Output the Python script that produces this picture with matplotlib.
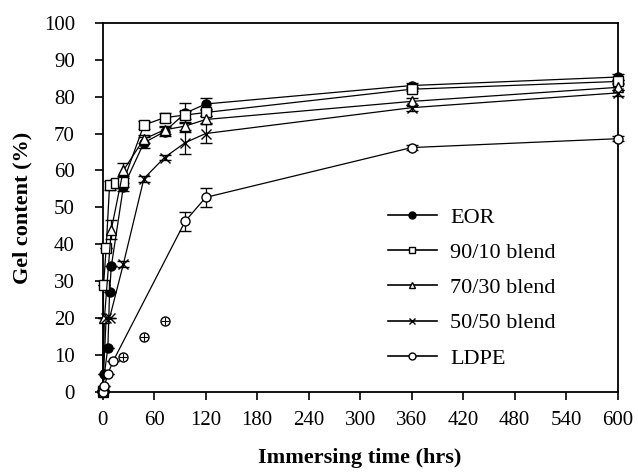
import matplotlib
matplotlib.use("Agg")
import matplotlib.pyplot as plt
from matplotlib.lines import Line2D

# Gel content vs immersing time
t_eor = [0, 2, 6, 8, 10, 24, 48, 72, 96, 120, 360, 600]
v_eor = [0.5, 5, 12, 27, 34, 55.5, 67.5, 70.5, 75.5, 78, 83, 85.3]
e_eor = [0, 0, 0, 0, 0, 1.2, 1.5, 1.2, 2.7, 1.5, 0.8, 0.8]

t_9010 = [0, 1, 4, 8, 16, 24, 48, 72, 96, 120, 360, 600]
v_9010 = [0.3, 29, 39, 56, 56.5, 57, 72.3, 74.3, 75, 75.7, 82, 84.1]
e_9010 = [0, 0, 0, 1.2, 1.2, 1.5, 1.0, 1.2, 1.0, 1.0, 0.5, 0.5]

t_7030 = [0, 2, 10, 24, 48, 72, 96, 120, 360, 600]
v_7030 = [0, 20, 44, 60, 68.5, 71, 72, 73.8, 78.7, 82.5]
e_7030 = [0, 0, 2.5, 2, 1, 1, 1, 1, 1, 0.8]

t_5050 = [0, 4, 8, 24, 48, 72, 96, 120, 360, 600]
v_5050 = [0, 20, 20, 34.6, 57.8, 63.5, 67.5, 70, 77, 81]
e_5050 = [0, 0, 0, 0.8, 0.8, 0.8, 3, 2.5, 0.8, 0.8]

t_ldpe = [0, 2, 6, 12, 96, 120, 360, 600]
v_ldpe = [0, 1.6, 4.9, 8.3, 46.2, 52.7, 66.2, 68.6]
e_ldpe = [0, 0, 0, 0, 2.5, 2.5, 0.6, 0.6]

# LDPE points that sit off the fitted curve
t_ldpe_off = [24, 48, 72]
v_ldpe_off = [9.5, 15, 19.2]

plt.rcParams["font.family"] = "Liberation Serif"

fig = plt.figure(figsize=(6.38, 4.74), dpi=100)
ax = fig.add_axes([0.161, 0.173, 0.807, 0.779])

series = [
    (t_eor, v_eor, e_eor, "o", "black", "EOR"),
    (t_9010, v_9010, e_9010, "s", "white", "90/10 blend"),
    (t_7030, v_7030, e_7030, "^", "white", "70/30 blend"),
    (t_5050, v_5050, e_5050, "x", "black", "50/50 blend"),
    (t_ldpe, v_ldpe, e_ldpe, "o", "white", "LDPE"),
]

handles = []
for t, v, e, m, fc, lab in series:
    ax.errorbar(t, v, yerr=e, color="black", lw=0.9, marker=m, ms=6.5,
                mfc=fc, mec="black", mew=1.0, capsize=4, elinewidth=0.9,
                clip_on=False, zorder=3)
    handles.append(Line2D([], [], color="black", lw=1.2, marker=m, ms=5,
                          mfc=fc, mec="black", mew=1.0, label=lab))

ax.plot(t_ldpe_off, v_ldpe_off, ls="none", marker="o", ms=6.5, mfc="white",
        mec="black", mew=1.0, zorder=3)
ax.plot(t_ldpe_off, v_ldpe_off, ls="none", marker="+", ms=5.5, color="black",
        mew=0.8, zorder=4)

ax.set_xlim(0, 600)
ax.set_ylim(0, 100)
ax.set_xticks(range(0, 601, 60))
ax.set_yticks(range(0, 101, 10))
ax.tick_params(direction="out", length=6, width=1.2, labelsize=15)
ax.tick_params(axis="x", pad=8)
ax.tick_params(axis="y", pad=14)
for sp in ax.spines.values():
    sp.set_linewidth(1.3)

ax.set_xlabel("Immersing time (hrs)", fontsize=16, fontweight="bold", labelpad=13)
ax.set_ylabel("Gel content (%)", fontsize=16, fontweight="bold", labelpad=8)

ax.legend(handles=handles, loc="upper left", bbox_to_anchor=(0.515, 0.555),
          frameon=False, fontsize=16, handlelength=2.2, handletextpad=0.6,
          labelspacing=0.66)

fig.savefig("out.png", dpi=100)
